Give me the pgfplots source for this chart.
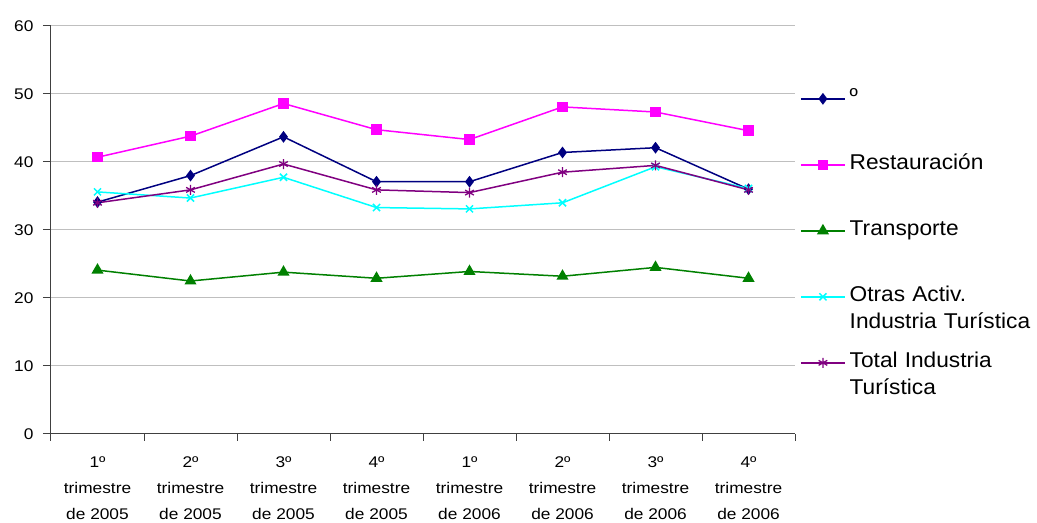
\documentclass[border=0pt]{standalone}
\usepackage{pgfplots}
\pgfplotsset{compat=1.18}
\usepackage{fontspec}
\setmainfont{Liberation Sans}[FakeStretch=1.12]
\newfontfamily\legfont{Liberation Sans}[FakeStretch=1.06]
\definecolor{cNavy}{HTML}{000080}
\definecolor{cMag}{HTML}{FF00FF}
\definecolor{cGreen}{HTML}{008000}
\definecolor{cCyan}{HTML}{00FFFF}
\definecolor{cPurple}{HTML}{800080}
\begin{document}
\begin{tikzpicture}[x=1bp,y=1bp]
\begin{axis}[
  at={(0,0)}, anchor=south west,
  scale only axis, width=744bp, height=408bp,
  xmin=0.5, xmax=8.5, ymin=0, ymax=60,
  ytick={0,10,...,60},
  xtick={1,...,8},
  xticklabels={{1º\\trimestre\\de 2005},{2º\\trimestre\\de 2005},{3º\\trimestre\\de 2005},{4º\\trimestre\\de 2005},{1º\\trimestre\\de 2006},{2º\\trimestre\\de 2006},{3º\\trimestre\\de 2006},{4º\\trimestre\\de 2006}},
  minor xtick={0.5,1.5,...,8.5},
  major x tick style={draw=none},
  axis x line*=bottom, axis y line*=left,
  axis line style={black!75, line width=1bp, -},
  tick style={black!75, line width=1bp},
  tick align=outside,
  major tick length=8bp, minor tick length=7bp,
  ymajorgrids, grid style={black!25, line width=1bp},
  /pgf/number format/assume math mode=true,
  yticklabel style={font=\fontsize{15.5}{18}\selectfont, xshift=-6bp},
  xticklabel style={align=center, font=\fontsize{15.5}{26}\selectfont, yshift=-11bp},
  legend style={draw=none, fill=none, at={(1.0067,0.844)}, anchor=north west,
    row sep=48bp, inner sep=0pt,
    nodes={inner sep=0pt, text height=14bp, text depth=4bp, text width=200bp, align=left, font=\legfont\fontsize{21.5}{26.5}\selectfont},
    legend image code/.code={\draw[#1, mark repeat=2, mark phase=2] plot coordinates {(0bp,0bp) (22bp,0bp) (44bp,0bp)}; \path (48bp,0bp);}},
  legend cell align=left,
]
\addplot[cNavy, line width=1.5bp, mark=diamond*, mark size=4.7bp, mark options={fill=cNavy}] coordinates {
 (1,34.1) (2,38.0) (3,43.7) (4,37.1) (5,37.1) (6,41.4) (7,42.1) (8,36.0)};
\addlegendentry{º}
\addplot[cMag, line width=1.5bp, mark=square*, mark size=4.5bp, mark options={fill=cMag}] coordinates {
 (1,40.7) (2,43.8) (3,48.6) (4,44.75) (5,43.3) (6,48.1) (7,47.35) (8,44.6)};
\addlegendentry{Restauración}
\addplot[cGreen, line width=1.5bp, mark=triangle*, mark size=5.5bp, mark options={fill=cGreen}] coordinates {
 (1,24.1) (2,22.5) (3,23.8) (4,22.9) (5,23.9) (6,23.2) (7,24.5) (8,22.9)};
\addlegendentry{Transporte}
\addplot[cCyan, line width=1.5bp, mark=x, mark size=5bp, mark options={line width=1.5bp}] coordinates {
 (1,35.6) (2,34.7) (3,37.75) (4,33.3) (5,33.1) (6,34.0) (7,39.3) (8,36.1)};
\addlegendentry{Otras Activ.\\Industria Turística}
\addplot[cPurple, line width=1.5bp, mark=asterisk, mark size=5bp, mark options={line width=1.3bp}] coordinates {
 (1,34.0) (2,35.9) (3,39.7) (4,35.9) (5,35.5) (6,38.5) (7,39.5) (8,35.9)};
\addlegendentry{Total Industria\\Turística}
\end{axis}
\pgfresetboundingbox
\useasboundingbox (-51,-89) rectangle (986,434);
\end{tikzpicture}
\end{document}
